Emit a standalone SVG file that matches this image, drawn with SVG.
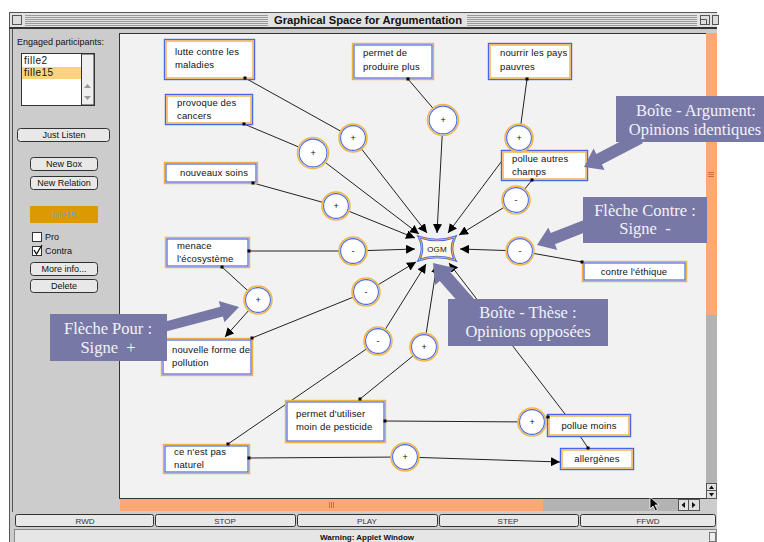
<svg xmlns="http://www.w3.org/2000/svg" width="764" height="542" viewBox="0 0 764 542">
<defs>
<style>
.ui{font-family:"Liberation Sans",Arial,sans-serif;font-size:9px;fill:#111}
.uic{font-family:"Liberation Sans",Arial,sans-serif;font-size:9px;fill:#111;text-anchor:middle}
.node text{font-family:"Liberation Sans",Arial,sans-serif;font-size:9.5px;fill:#111;letter-spacing:0.15px}
.node text.c{text-anchor:middle}
.bo{fill:#fff;stroke:#4a66e6;stroke-width:1.4}
.bi{fill:none;stroke:#f0b040;stroke-width:1.4}
.oo{fill:#fff;stroke:#f0b040;stroke-width:1.4}
.oi{fill:none;stroke:#4a66e6;stroke-width:1.2}
.co{fill:#fff;stroke:#f0b848;stroke-width:1.6}
.ci{fill:none;stroke:#4a66e6;stroke-width:1.1}
.node text.sign{font-size:9px;text-anchor:middle;letter-spacing:0}
.edge{stroke:#222;stroke-width:1;fill:none}
.arr{marker-end:url(#ah)}
.dot{fill:#000}
.note rect,.note polygon{fill:#7878a6}
.note text{font-family:"Liberation Serif","Times New Roman",serif;font-size:16.5px;fill:#f2f2f8;text-anchor:middle}
.btn{fill:#e8e8e8;stroke:#333;stroke-width:1}
.stripe{stroke:#9a9a9a;stroke-width:1}
.sb{fill:#ffa874}
.track{fill:#b3b3b3}
</style>
<marker id="ah" markerUnits="userSpaceOnUse" markerWidth="9" markerHeight="9" refX="9" refY="4.5" orient="auto" viewBox="0 0 9 9"><path d="M0,0 L9,4.5 L0,9 Z" fill="#000"/></marker>
</defs>

<rect width="764" height="542" fill="#fff"/>

<!-- applet window frame -->
<g id="window">
  <rect x="9" y="12" width="708" height="530" fill="#cccccc"/>
  <line x1="9.5" y1="12" x2="9.5" y2="542" stroke="#555"/>
  <line x1="9" y1="12.5" x2="717" y2="12.5" stroke="#555"/>
  <rect x="10" y="13" width="707" height="15" fill="#e2e2e2"/>
  <path class="stripe" d="M25,15.5H268M25,17.5H268M25,19.5H268M25,21.5H268M25,23.5H268M25,25.5H268M467,15.5H697M467,17.5H697M467,19.5H697M467,21.5H697M467,23.5H697M467,25.5H697"/>
  <rect x="12.5" y="15.5" width="9" height="9" fill="#ddd" stroke="#555"/>
  <rect x="700.5" y="15.5" width="9" height="9" fill="#ddd" stroke="#555"/>
  <path d="M700.5,19.5H706.5V24.5" fill="none" stroke="#555"/>
  <rect x="712.5" y="15.5" width="6" height="9" fill="#ddd" stroke="#555"/>
  <text x="368" y="24" font-family="Liberation Sans, Arial, sans-serif" font-size="10.5" font-weight="bold" text-anchor="middle" fill="#111" textLength="188" lengthAdjust="spacingAndGlyphs">Graphical Space for Argumentation</text>
  <line x1="9" y1="28" x2="717" y2="28" stroke="#333" stroke-width="2"/>
  <line x1="12.5" y1="29" x2="12.5" y2="512" stroke="#555"/>
</g>

<!-- control panel -->
<g id="panel">
  <text class="ui" x="17" y="45">Engaged participants:</text>
  <rect x="21.5" y="53.5" width="73" height="52" fill="#fff" stroke="#333"/>
  <rect x="22" y="67" width="59" height="12" fill="#ffd27f"/>
  <rect x="81.5" y="54" width="12.5" height="51" fill="#eeeeee" stroke="#333" stroke-width="1"/>
  <path d="M84,88 L87.5,84 L91,88 Z M84,96 L87.5,100 L91,96 Z" fill="#999"/>
  <text x="24" y="64" font-family="Liberation Sans, Arial, sans-serif" font-size="10" letter-spacing="0.5" fill="#111">fille2</text>
  <text x="24" y="76" font-family="Liberation Sans, Arial, sans-serif" font-size="10" letter-spacing="0.5" fill="#111">fille15</text>

  <rect class="btn" x="17.5" y="128.5" width="92" height="13" rx="3"/>
  <text class="uic" x="64" y="138">Just Listen</text>
  <rect class="btn" x="30.5" y="157.5" width="67" height="13" rx="3"/>
  <text class="uic" x="64" y="167">New Box</text>
  <rect class="btn" x="30.5" y="176.5" width="67" height="13" rx="3"/>
  <text class="uic" x="64" y="186">New Relation</text>
  <rect x="30" y="206" width="68" height="17" fill="#da9a00"/>
  <text x="64" y="218" font-family="Liberation Sans, Arial, sans-serif" font-size="9" text-anchor="middle" fill="#6fa0e0">fille15</text>
  <rect x="32.5" y="232.5" width="9" height="9" fill="#fff" stroke="#333"/>
  <text class="ui" x="45" y="240">Pro</text>
  <rect x="32.5" y="246.5" width="9" height="9" fill="#fff" stroke="#333"/>
  <path d="M34,250 L36.5,254 L42,245" fill="none" stroke="#111" stroke-width="1.3"/>
  <text class="ui" x="45" y="254">Contra</text>
  <rect class="btn" x="30.5" y="262.5" width="67" height="13" rx="3"/>
  <text class="uic" x="64" y="272">More info...</text>
  <rect class="btn" x="30.5" y="279.5" width="67" height="13" rx="3"/>
  <text class="uic" x="64" y="289">Delete</text>
</g>

<!-- drawing canvas and scrollbars -->
<g id="canvas">
  <rect x="119.5" y="33.5" width="587" height="465" fill="#f2f2f2" stroke="#333"/>
  <rect class="sb" x="706" y="33" width="11" height="282"/>
  <rect class="track" x="706" y="315" width="11" height="168"/>
  <path d="M708,172.5H714M708,174.5H714M708,176.5H714" stroke="#d07030"/>
  <rect x="706.5" y="483.5" width="10" height="7" fill="#e0e0e0" stroke="#555"/>
  <rect x="706.5" y="490.5" width="10" height="8" fill="#e0e0e0" stroke="#555"/>
  <path d="M709,489 L711.5,485.5 L714,489 Z M709,493 L711.5,496.5 L714,493 Z" fill="#111"/>
  <rect class="sb" x="120" y="499" width="423" height="12"/>
  <rect class="track" x="543" y="499" width="135" height="12"/>
  <path d="M329.5,502V508M331.5,502V508M333.5,502V508" stroke="#d07030"/>
  <rect x="678.5" y="499.5" width="10" height="11" fill="#e0e0e0" stroke="#555"/>
  <rect x="688.5" y="499.5" width="11" height="11" fill="#e0e0e0" stroke="#555"/>
  <path d="M685,502 L681.5,505 L685,508 Z M692,502 L695.5,505 L692,508 Z" fill="#111"/>
  <rect x="700" y="499" width="17" height="12" fill="#cccccc"/>
</g>

<!-- playback controls -->
<g id="playback">
  <rect class="btn" x="15.5" y="514.5" width="138" height="12" rx="2"/>
  <rect class="btn" x="155.5" y="514.5" width="140" height="12" rx="2"/>
  <rect class="btn" x="297.5" y="514.5" width="140" height="12" rx="2"/>
  <rect class="btn" x="439.5" y="514.5" width="139" height="12" rx="2"/>
  <rect class="btn" x="580.5" y="514.5" width="135" height="12" rx="2"/>
  <g font-family="Liberation Sans, Arial, sans-serif" font-size="8" fill="#333" text-anchor="middle">
    <text x="85" y="524">RWD</text>
    <text x="225" y="524">STOP</text>
    <text x="367" y="524">PLAY</text>
    <text x="508" y="524">STEP</text>
    <text x="648" y="524">FFWD</text>
  </g>
  <rect x="14.5" y="529.5" width="702" height="14" fill="#e6e6e6" stroke="#888"/>
  <text x="367" y="540" font-family="Liberation Sans, Arial, sans-serif" font-size="8" font-weight="bold" text-anchor="middle" fill="#111">Warning: Applet Window</text>
  <rect x="709.5" y="532.5" width="6" height="9" fill="#eee" stroke="#777"/>
</g>

<!-- relations -->
<g id="connectors">
  <path class="edge" d="M245,78 L353,138"/>
  <path class="edge" d="M244,124 L313,153"/>
  <path class="edge" d="M253,183 L336,206"/>
  <path class="edge" d="M408,79 L443,120"/>
  <path class="edge" d="M527,79 L519,138"/>
  <path class="edge" d="M532,180 L516,200"/>
  <path class="edge" d="M582,262 L520,251"/>
  <path class="edge" d="M249,251 L353,251"/>
  <path class="edge" d="M252,338 L366,292"/>
  <path class="edge" d="M222,267 L258,300"/>
  <path class="edge" d="M228,444 L378,341"/>
  <path class="edge" d="M360,399 L424,347"/>
  <path class="edge" d="M385,421 L532,422"/>
  <path class="edge" d="M249,458 L405,457"/>
  <path class="edge" d="M532,422 L548,417"/>
  <path class="edge" d="M580,436 L588,448"/>

  <path class="edge arr" d="M353,138 L427,233"/>
  <path class="edge arr" d="M313,153 L419,234"/>
  <path class="edge arr" d="M336,206 L415,238"/>
  <path class="edge arr" d="M443,120 L437,233"/>
  <path class="edge arr" d="M519,138 L448,233"/>
  <path class="edge arr" d="M516,200 L459,235"/>
  <path class="edge arr" d="M520,251 L460,249"/>
  <path class="edge arr" d="M353,251 L415,249"/>
  <path class="edge arr" d="M366,292 L416,262"/>
  <path class="edge arr" d="M378,341 L426,264"/>
  <path class="edge arr" d="M424,347 L437,264"/>
  <path class="edge arr" d="M565,414 L449,263"/>
  <path class="edge arr" d="M258,300 L225,337"/>
  <path class="edge arr" d="M405,457 L560,462"/>
</g>

<!-- thesis -->
<g id="n-ogm" class="node">
  <path d="M419,237 Q437,243 455,237 Q449,248.5 455,260 Q437,254 419,260 Q425,248.5 419,237 Z" fill="#fffbea" stroke="#4a66e6" stroke-width="2.6"/>
  <path d="M419,237 Q437,243 455,237 Q449,248.5 455,260 Q437,254 419,260 Q425,248.5 419,237 Z" fill="none" stroke="#f0b040" stroke-width="1"/>
  <text class="c" x="437" y="252" style="font-size:8px">OGM</text>
</g>

<!-- argument boxes -->
<g id="n-lutte" class="node">
  <rect class="bo" x="164.5" y="39.5" width="90" height="40"/><rect class="bi" x="166" y="41" width="87" height="37"/>
  <text x="175" y="55">lutte contre les</text><text x="175" y="68">maladies</text>
</g>
<g id="n-produire" class="node">
  <rect class="oo" x="352.5" y="43.5" width="81" height="36"/><rect class="oi" x="354" y="45" width="78" height="33"/>
  <text x="363" y="56">permet de</text><text x="363" y="70">produire plus</text>
</g>
<g id="n-nourrir" class="node">
  <rect class="bo" x="488.5" y="43.5" width="83" height="36"/><rect class="bi" x="490" y="45" width="80" height="33"/>
  <text x="500" y="56">nourrir les pays</text><text x="500" y="70">pauvres</text>
</g>
<g id="n-cancers" class="node">
  <rect class="bo" x="165.5" y="94.5" width="87" height="30"/><rect class="bi" x="167" y="96" width="84" height="27"/>
  <text x="177" y="106">provoque des</text><text x="177" y="119">cancers</text>
</g>
<g id="n-soins" class="node">
  <rect class="oo" x="164.5" y="162.5" width="93" height="21"/><rect class="oi" x="166" y="164" width="90" height="18"/>
  <text x="180" y="176">nouveaux soins</text>
</g>
<g id="n-champs" class="node">
  <rect class="bo" x="501.5" y="150.5" width="86" height="30"/><rect class="bi" x="503" y="152" width="83" height="27"/>
  <text x="512" y="162">pollue autres</text><text x="512" y="175">champs</text>
</g>
<g id="n-ethique" class="node">
  <rect class="oo" x="582.5" y="261.5" width="104" height="20"/><rect class="oi" x="584" y="263" width="101" height="17"/>
  <text class="c" x="634" y="275">contre l'éthique</text>
</g>
<g id="n-ecosysteme" class="node">
  <rect class="oo" x="165.5" y="237.5" width="84" height="30"/><rect class="oi" x="167" y="239" width="81" height="27"/>
  <text x="177" y="249">menace</text><text x="177" y="262">l'écosystème</text>
</g>
<g id="n-pollution" class="node">
  <rect class="oo" x="161.5" y="338.5" width="91" height="37"/><rect class="oi" x="163" y="340" width="88" height="34"/>
  <text x="172" y="353">nouvelle forme de</text><text x="172" y="366">pollution</text>
</g>
<g id="n-pesticide" class="node">
  <rect class="oo" x="285.5" y="400.5" width="100" height="42"/><rect class="oi" x="287" y="402" width="97" height="39"/>
  <text x="296" y="417">permet d'utiliser</text><text x="296" y="430">moin de pesticide</text>
</g>
<g id="n-moins" class="node">
  <rect class="bo" x="547.5" y="414.5" width="83" height="22"/><rect class="bi" x="549" y="416" width="80" height="19"/>
  <text class="c" x="589" y="429">pollue moins</text>
</g>
<g id="n-allergenes" class="node">
  <rect class="bo" x="560.5" y="448.5" width="73" height="21"/><rect class="bi" x="562" y="450" width="70" height="18"/>
  <text class="c" x="597" y="462">allergènes</text>
</g>
<g id="n-naturel" class="node">
  <rect class="oo" x="163.5" y="444.5" width="86" height="29"/><rect class="oi" x="165" y="446" width="83" height="26"/>
  <text x="174" y="455">ce n'est pas</text><text x="174" y="468">naturel</text>
</g>

<!-- relation signs -->
<g id="r1" class="node" transform="translate(353,138)"><circle class="co" r="14"/><circle class="ci" r="12.4"/><text class="sign" y="3">+</text></g>
<g id="r2" class="node" transform="translate(313,153)"><circle class="co" r="15.5"/><circle class="ci" r="13.9"/><text class="sign" y="3">+</text></g>
<g id="r3" class="node" transform="translate(336,206)"><circle class="co" r="14"/><circle class="ci" r="12.4"/><text class="sign" y="3">+</text></g>
<g id="r4" class="node" transform="translate(443,120)"><circle class="co" r="15.5"/><circle class="ci" r="13.9"/><text class="sign" y="3">+</text></g>
<g id="r5" class="node" transform="translate(519,138)"><circle class="co" r="14"/><circle class="ci" r="12.4"/><text class="sign" y="3">+</text></g>
<g id="r6" class="node" transform="translate(516,200)"><circle class="co" r="14"/><circle class="ci" r="12.4"/><text class="sign" y="3">-</text></g>
<g id="r7" class="node" transform="translate(520,251)"><circle class="co" r="14"/><circle class="ci" r="12.4"/><text class="sign" y="3">-</text></g>
<g id="r8" class="node" transform="translate(353,251)"><circle class="co" r="14"/><circle class="ci" r="12.4"/><text class="sign" y="3">-</text></g>
<g id="r9" class="node" transform="translate(366,292)"><circle class="co" r="14"/><circle class="ci" r="12.4"/><text class="sign" y="3">-</text></g>
<g id="r10" class="node" transform="translate(258,300)"><circle class="co" r="14"/><circle class="ci" r="12.4"/><text class="sign" y="3">+</text></g>
<g id="r11" class="node" transform="translate(378,341)"><circle class="co" r="14"/><circle class="ci" r="12.4"/><text class="sign" y="3">-</text></g>
<g id="r12" class="node" transform="translate(424,347)"><circle class="co" r="14"/><circle class="ci" r="12.4"/><text class="sign" y="3">+</text></g>
<g id="r13" class="node" transform="translate(532,422)"><circle class="co" r="14"/><circle class="ci" r="12.4"/><text class="sign" y="3">+</text></g>
<g id="r14" class="node" transform="translate(405,457)"><circle class="co" r="14"/><circle class="ci" r="12.4"/><text class="sign" y="3">+</text></g>

<!-- anchor handles -->
<g id="anchors" class="dot">
  <rect x="243.5" y="76.5" width="3" height="3"/>
  <rect x="242.5" y="122.5" width="3" height="3"/>
  <rect x="251.5" y="181.5" width="3" height="3"/>
  <rect x="406.5" y="77.5" width="3" height="3"/>
  <rect x="525.5" y="77.5" width="3" height="3"/>
  <rect x="530.5" y="178.5" width="3" height="3"/>
  <rect x="580.5" y="260.5" width="3" height="3"/>
  <rect x="247.5" y="249.5" width="3" height="3"/>
  <rect x="220.5" y="265.5" width="3" height="3"/>
  <rect x="250.5" y="336.5" width="3" height="3"/>
  <rect x="358.5" y="397.5" width="3" height="3"/>
  <rect x="383.5" y="419.5" width="3" height="3"/>
  <rect x="226.5" y="442.5" width="3" height="3"/>
  <rect x="247.5" y="456.5" width="3" height="3"/>
  <rect x="546.5" y="415.5" width="3" height="3"/>
  <rect x="586.5" y="446.5" width="3" height="3"/>
</g>

<!-- explanatory callouts -->
<g id="note-argument" class="note">
  <polygon points="642.8,143.3 601.9,164.5 604.6,169.9 584,167 593.6,148.5 596.3,153.9 637.2,132.7"/>
  <rect x="616" y="96" width="148" height="46"/>
  <text x="696" y="116">Boîte - Argument:</text>
  <text x="695" y="135">Opinions identiques</text>
</g>
<g id="note-contre" class="note">
  <polygon points="592.2,229.6 555,244.3 557.2,249.9 537,245 548.4,227.5 550.6,233.1 587.8,218.4"/>
  <rect x="583" y="197" width="124" height="46"/>
  <text x="645" y="216">Flèche Contre :</text>
  <text x="645" y="234">Signe&#160; -</text>
</g>
<g id="note-these" class="note">
  <polygon points="475.3,300.4 450.2,271.9 454.7,267.9 433,263 435.2,285.1 439.7,281.1 464.8,309.6"/>
  <rect x="448" y="299" width="160" height="47"/>
  <text x="528" y="318">Boîte - Thèse :</text>
  <text x="528" y="337">Opinions opposées</text>
</g>
<g id="note-pour" class="note">
  <polygon points="161.3,332.8 222.9,316.4 224.4,322.2 239,307 218.8,301 220.3,306.8 158.7,323.2"/>
  <rect x="50" y="314" width="117" height="47"/>
  <text x="108" y="334">Flèche Pour :</text>
  <text x="108" y="353">Signe&#160; +</text>
</g>

<!-- mouse pointer -->
<path id="pointer" d="M650,497 L650,509 L653,506 L655.5,511 L657.5,510 L655,505 L659,505 Z" fill="#000" stroke="#fff" stroke-width="0.8"/>
</svg>
